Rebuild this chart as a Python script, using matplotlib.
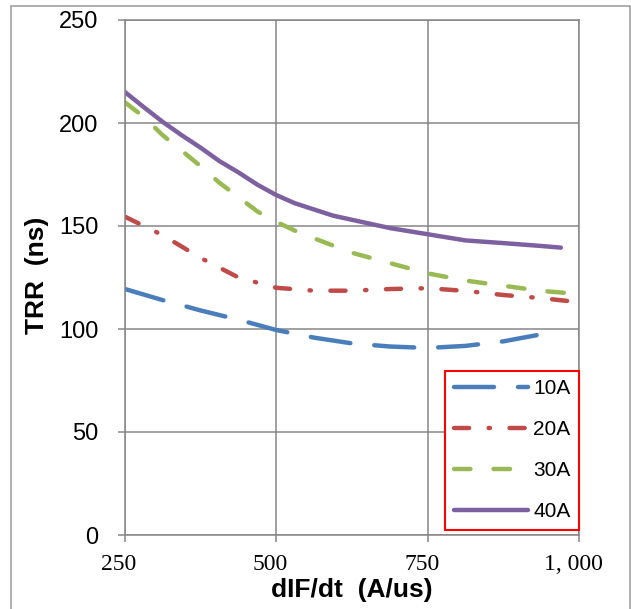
import numpy as np
import matplotlib
matplotlib.use("Agg")
import matplotlib.pyplot as plt
from matplotlib.patches import Rectangle
from matplotlib.transforms import ScaledTranslation

# values
x_full = [250, 312.5, 375, 437.5, 500, 562.5, 625, 687.5, 750, 812.5, 875, 937.5, 1000]

x_10a = [250, 312.5, 375, 437.5, 500, 562.5, 625, 687.5, 750, 812.5, 875, 930]
trr_10a = [119.4, 114, 109, 104.5, 99.5, 95.8, 93, 91.5, 90.8, 91.8, 94, 97]

trr_20a = [154.5, 145.5, 134.5, 125, 120, 118.6, 118.6, 119.4, 119.8, 118.5, 116.5, 115, 113]

x_30a = [250, 281, 312.5, 344, 375, 406, 437.5, 469, 500, 531, 562.5, 625, 687.5,
         750, 812.5, 875, 937.5, 1000]
trr_30a = [210, 203, 194, 186.5, 179, 171, 164, 157, 152, 147.7, 144, 137, 132,
           127, 123.5, 121, 118.5, 117]

x_40a = [250, 281, 312.5, 344, 375, 406, 437.5, 469, 500, 531, 562.5, 594, 625,
         687.5, 750, 812.5, 875, 937.5, 970]
trr_40a = [215, 207.7, 200.5, 194, 188, 181.5, 176, 170, 165, 161, 158, 155, 153,
           149, 146, 143, 141.7, 140.3, 139.5]

x_ticks = [250, 500, 750, 1000]
x_tick_labels = ["250", "500", "750", "1, 000"]
y_ticks = [0, 50, 100, 150, 200, 250]

plt.rcParams['font.family'] = ['Liberation Sans', 'DejaVu Sans']

fig = plt.figure(figsize=(6.31, 6.09), dpi=100)
ax = fig.add_axes([125 / 631, 1 - 535 / 609, 454 / 631, 515 / 609])

lw = 3.2
ax.plot(x_10a, trr_10a, color='#4A7EBB', lw=lw, dashes=(9.0, 5.4),
        dash_capstyle='round', solid_joinstyle='round', label='10A')
ax.plot(x_full, trr_20a, color='#BE4B48', lw=lw, dashes=(3.4, 4.4, 0.3, 4.4),
        dash_capstyle='round', label='20A')
ax.plot(x_30a, trr_30a, color='#98B954', lw=lw, dashes=(3.7, 5.2),
        dash_capstyle='round', label='30A')
ax.plot(x_40a, trr_40a, color='#7D60A0', lw=lw, solid_capstyle='round',
        solid_joinstyle='round', label='40A')

ax.set_xlim(250, 1000)
ax.set_ylim(0, 250)
ax.set_xticks(x_ticks)
ax.set_xticklabels(x_tick_labels, family='Liberation Serif', fontsize=17)
ax.set_yticks(y_ticks)
ax.tick_params(axis='y', labelsize=17, pad=14)
ax.tick_params(axis='x', pad=9)
ax.tick_params(direction='out', length=5, width=1.1, color='#868686')

grid_col = '#868686'
ax.grid(True, color=grid_col, lw=1.1)
ax.set_axisbelow(True)
for s in ax.spines.values():
    s.set_color(grid_col)
    s.set_linewidth(1.1)

# x tick labels in the reference sit a bit left of their ticks
for lab in ax.get_xticklabels():
    lab.set_transform(lab.get_transform() + ScaledTranslation(-6 / 100, 0, fig.dpi_scale_trans))

fig.text(352 / 631, 1 - 590 / 609, 'dIF/dt  (A/us)', ha='center', va='center',
         fontsize=19, fontweight='bold')
fig.text(37 / 631, 1 - 275 / 609, 'TRR  (ns)', ha='center', va='center',
         rotation=90, fontsize=19, fontweight='bold')

leg = ax.legend(loc='lower right', bbox_to_anchor=(1.0, 0.01), borderaxespad=0,
                fontsize=15, handlelength=3.55, handletextpad=0.25,
                labelspacing=1.05, borderpad=0.42, fancybox=False,
                framealpha=1, edgecolor='red')
leg.get_frame().set_linewidth(1.5)

fig.patches.append(Rectangle((11 / 631, -0.05), (630 - 11) / 631, 1 - 6 / 609 + 0.05,
                             transform=fig.transFigure, fill=False,
                             edgecolor='#9a9a9a', lw=1.1, clip_on=False))

fig.savefig('out.png', dpi=100)
